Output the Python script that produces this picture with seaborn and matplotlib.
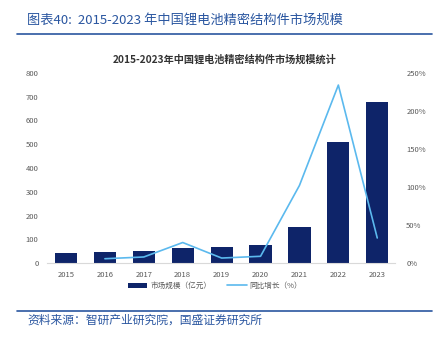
import numpy as np
import pandas as pd
import matplotlib
matplotlib.use("Agg")
import matplotlib.pyplot as plt
from matplotlib.lines import Line2D
from matplotlib.patches import Patch
import seaborn as sns

years = ["2015", "2016", "2017", "2018", "2019", "2020", "2021", "2022", "2023"]
market_size = [43, 46, 52, 63, 67, 77, 153, 510, 679]
growth_years = ["2016", "2017", "2018", "2019", "2020", "2021", "2022", "2023"]
growth_pct = [5.7, 8.0, 27.0, 6.6, 8.9, 102.0, 234.0, 33.0]
left_ticks = [0, 100, 200, 300, 400, 500, 600, 700, 800]
right_ticks = [0, 50, 100, 150, 200, 250]

sns.set_theme(style="white")
plt.rcParams['font.family'] = ['Noto Sans CJK SC', 'DejaVu Sans']

BAR = "#0E2469"
LINE = "#5BB9EE"
TXT = "#595959"
HEAD = "#2A56A0"

fig = plt.figure(figsize=(4.47, 3.39), dpi=100)
ax = fig.add_axes([0.105, 0.224, 0.779, 0.561])

df = pd.DataFrame({"year": years, "size": market_size})
sns.barplot(data=df, x="year", y="size", color=BAR, width=0.57, ax=ax,
            saturation=1, edgecolor="none")
ax.set_xlim(-0.49, 8.46)
ax.set_ylim(0, 800)
ax.set_yticks(left_ticks)
ax.set_yticklabels([str(t) for t in left_ticks])
ax.set_xlabel("")
ax.set_ylabel("")
ax.tick_params(axis="both", labelsize=5.5, colors=TXT, length=0, pad=6)
for s in ["left", "right", "top"]:
    ax.spines[s].set_visible(False)
ax.spines["bottom"].set_color("#D9D9D9")
ax.spines["bottom"].set_linewidth(0.8)

ax2 = ax.twinx()
gdf = pd.DataFrame({"pos": [years.index(y) for y in growth_years], "g": growth_pct})
sns.lineplot(data=gdf, x="pos", y="g", color=LINE, linewidth=1.2, ax=ax2)
ax2.set_ylim(0, 250)
ax2.set_yticks(right_ticks)
ax2.set_yticklabels([f"{t}%" for t in right_ticks])
ax2.set_xlim(-0.49, 8.46)
ax2.set_xlabel("")
ax2.set_ylabel("")
ax2.tick_params(axis="y", labelsize=5.5, colors=TXT, length=0, pad=8)
for s in ["left", "right", "top", "bottom"]:
    ax2.spines[s].set_visible(False)

handles = [Patch(facecolor=BAR, edgecolor="none"),
           Line2D([0], [0], color=LINE, linewidth=1.2)]
fig.legend(handles, ["市场规模（亿元）", "同比增长（%）"], loc="center",
           bbox_to_anchor=(215 / 447, 1 - 286 / 339), ncol=2, frameon=False,
           fontsize=5.5, labelcolor=TXT, handlelength=2.6, handleheight=0.7,
           columnspacing=2.0, handletextpad=0.4)

fig.text(225 / 447, 1 - 60 / 339, "2015-2023年中国锂电池精密结构件市场规模统计",
         ha="center", va="center", fontsize=7.3, fontweight="bold", color="#333333")

fig.text(27 / 447, 1 - 20 / 339, "图表40:  2015-2023 年中国锂电池精密结构件市场规模",
         ha="left", va="center", fontsize=9.5, color=HEAD, style="italic")
fig.add_artist(Line2D([17 / 447, 432 / 447], [1 - 34 / 339, 1 - 34 / 339],
                      color=HEAD, linewidth=1.2, transform=fig.transFigure))
fig.add_artist(Line2D([17 / 447, 432 / 447], [1 - 311 / 339, 1 - 311 / 339],
                      color=HEAD, linewidth=1.2, transform=fig.transFigure))
fig.text(27 / 447, 1 - 320 / 339, "资料来源：智研产业研究院，国盛证券研究所",
         ha="left", va="center", fontsize=8.5, color=HEAD, style="italic")

fig.savefig("out.png", dpi=100)
